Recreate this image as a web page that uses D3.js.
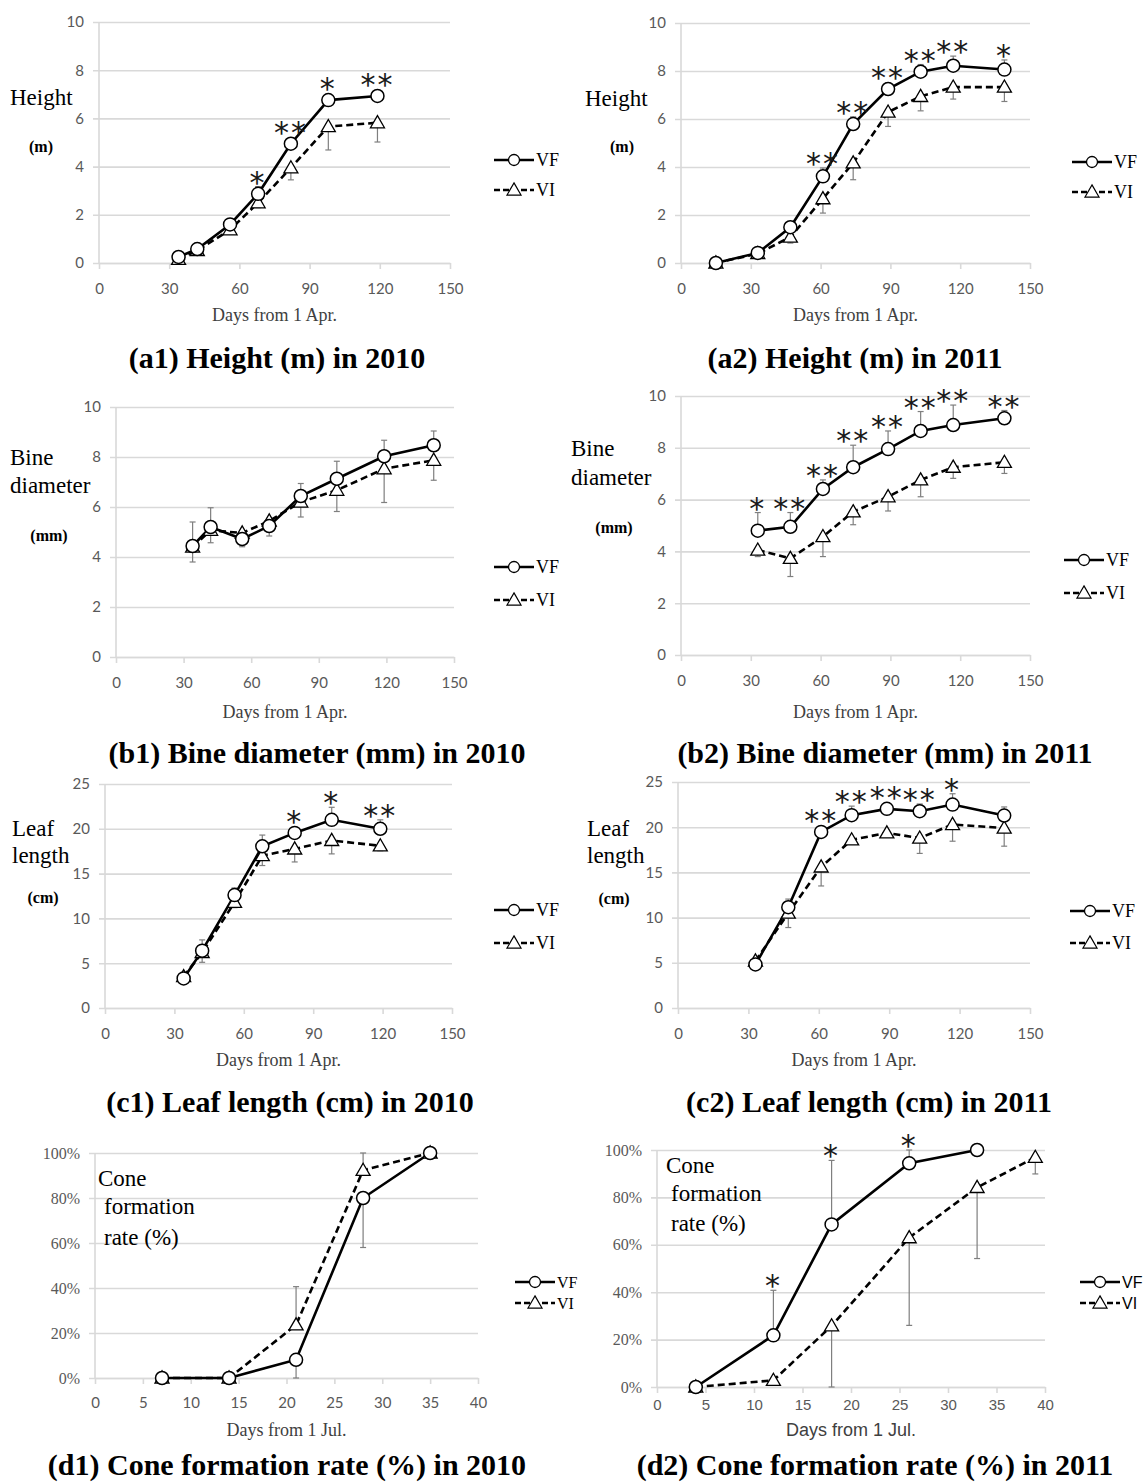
<!DOCTYPE html>
<meta charset="utf-8">
<style>
body { margin: 0; background: #fff; }
</style>
<body>
<svg id="chart" width="1145" height="1483"></svg>
<script src="https://cdn.jsdelivr.net/npm/d3@7"></script>
<script>
// ---------- data ----------
var aprTicks = [0, 30, 60, 90, 120, 150];
var julTicks = [0, 5, 10, 15, 20, 25, 30, 35, 40];
var tenTicks = [0, 2, 4, 6, 8, 10];
var leafTicks = [0, 5, 10, 15, 20, 25];
var rateTicks = [0, 20, 40, 60, 80, 100];

// (a1) height 2010
var heightDays2010 = [34, 42, 56, 68, 82, 98, 119];
var heightVF2010 = [0.25, 0.58, 1.6, 2.87, 4.95, 6.76, 6.93];
var heightVI2010 = [0.15, 0.52, 1.38, 2.5, 3.95, 5.66, 5.82];
var heightVFerr2010 = [0.05, 0.1, 0.15, 0.3, 0.2, 0.1, 0.1];
var heightVIerr2010 = [-0.05, -0.1, -0.15, -0.2, -0.5, -0.97, -0.8];
var heightSig2010 = ["", "", "", "*", "**", "*", "**"];

// (a2) height 2011
var heightDays2011 = [15, 33, 47, 61, 74, 89, 103, 117, 139];
var heightVF2011 = [0, 0.42, 1.49, 3.61, 5.79, 7.25, 7.97, 8.22, 8.06];
var heightVI2011 = [0, 0.39, 1.08, 2.68, 4.17, 6.29, 6.94, 7.33, 7.33];
var heightVFerr2011 = [0.05, 0.05, 0.1, 0.35, 0.3, 0.25, 0.3, 0.4, 0.4];
var heightVIerr2011 = [-0.05, -0.05, -0.25, -0.6, -0.7, -0.6, -0.6, -0.5, -0.6];
var heightSig2011 = ["", "", "", "**", "**", "**", "**", "**", "*"];

// (b1) bine diameter 2010
var bineDays2010 = [34, 42, 56, 68, 82, 98, 119, 141];
var bineVF2010 = [4.44, 5.2, 4.72, 5.24, 6.44, 7.13, 8.03, 8.47];
var bineVI2010 = [4.4, 5.07, 4.96, 5.44, 6.2, 6.67, 7.53, 7.87];
var bineVFerr2010 = [0.96, 0.77, 0.3, 0.3, 0.5, 0.7, 0.64, 0.57];
var bineVIerr2010 = [-0.6, -0.5, -0.55, -0.6, -0.6, -0.85, -1.35, -0.8];
var bineSig2010 = ["", "", "", "", "", "", "", ""];

// (b2) bine diameter 2011
var bineDays2011 = [33, 47, 61, 74, 89, 103, 117, 139];
var bineVF2011 = [4.8, 4.95, 6.41, 7.25, 7.95, 8.65, 8.88, 9.14];
var bineVI2011 = [4.05, 3.73, 4.57, 5.53, 6.11, 6.76, 7.25, 7.44];
var bineVFerr2011 = [0.7, 0.55, 0.35, 0.85, 0.7, 0.75, 0.77, 0.3];
var bineVIerr2011 = [-0.25, -0.7, -0.77, -0.5, -0.55, -0.65, -0.43, -0.43];
var bineSig2011 = ["*", "**", "**", "**", "**", "**", "**", "**"];

// (c1) leaf length 2010
var leafDays2010 = [34, 42, 56, 68, 82, 98, 119];
var leafVF2010 = [3.3, 6.4, 12.6, 18.05, 19.54, 21.0, 20.0];
var leafVI2010 = [3.5, 6.2, 11.8, 17.0, 17.75, 18.7, 18.1];
var leafVFerr2010 = [0.3, 1.2, 0.8, 1.25, 0.5, 1.4, 1.0];
var leafVIerr2010 = [-0.3, -1.1, -0.6, -1.1, -1.45, -1.5, -0.55];
var leafSig2010 = ["", "", "", "", "*", "*", "**"];

// (c2) leaf length 2011
var leafDays2011 = [33, 47, 61, 74, 89, 103, 117, 139];
var leafVF2011 = [4.82, 11.15, 19.48, 21.33, 22.03, 21.77, 22.5, 21.29];
var leafVI2011 = [5.2, 10.5, 15.6, 18.6, 19.37, 18.8, 20.3, 19.9];
var leafVFerr2011 = [0.3, 0.9, 0.3, 1.0, 0.4, 0.8, 1.2, 0.95];
var leafVIerr2011 = [-0.3, -1.6, -2.1, -0.4, -0.3, -1.7, -1.85, -2.0];
var leafSig2011 = ["", "", "**", "**", "**", "**", "*", ""];

// (d1) cone formation rate 2010 (%)
var coneDays2010 = [7, 14, 21, 28, 35];
var coneVF2010 = [0, 0, 8.1, 80, 100];
var coneVI2010 = [0, 0, 23.6, 92.3, 100];
var coneVFerr2010 = [0, 0, -8.1, -22, 0];
var coneVIerr2010 = [0, 0, 17, 7.7, 0];
var coneSig2010 = ["", "", "", "", ""];

// (d2) cone formation rate 2011 (%)
var coneDaysVF2011 = [4, 12, 18, 26, 33];
var coneDaysVI2011 = [4, 12, 18, 26, 33, 39];
var coneVF2011 = [0, 21.8, 68.6, 94.4, 100];
var coneVI2011 = [0, 2.8, 25.8, 63, 84.2, 96.9];
var coneVFerr2011 = [0, 19, 27, 5.6, 0];
var coneVIerr2011 = [0, 0, -25.8, -37, -30, -7];
var coneSig2011 = ["", "*", "*", "*", ""];

// ---------- fonts ----------
var SERIF = "'Liberation Serif', 'Times New Roman', serif";
var CAL = "Lato, 'Open Sans', sans-serif";
var ARIAL = "'Liberation Sans', Arial, sans-serif";

var plain = function(d) { return d; };
var pct = function(d) { return d + "%"; };

var panels = [
  {
    box: {l: 99, r: 450, t: 22, b: 263},
    xDomain: [0, 150], xTicks: aprTicks, yDomain: [0, 10], yTicks: tenTicks, yFormat: plain,
    vf: {x: heightDays2010, y: heightVF2010, err: heightVFerr2010},
    vi: {x: heightDays2010, y: heightVI2010, err: heightVIerr2010},
    sig: heightSig2010,
    yTitle: [{text: "Height", x: 10, y: 97}, {text: "(m)", x: 41, y: 146, bold: true}],
    xTitle: "Days from 1 Apr.", xTitleY: 315, xTickY: 26,
    title: "(a1) Height (m) in 2010", titleX: 277, titleY: 357,
    legend: {x: 494, y: 160, gap: 30, size: 18},
    fonts: {yTick: CAL, xTick: CAL, xTitle: SERIF, legend: SERIF}
  },
  {
    box: {l: 681, r: 1030, t: 23, b: 263},
    xDomain: [0, 150], xTicks: aprTicks, yDomain: [0, 10], yTicks: tenTicks, yFormat: plain,
    vf: {x: heightDays2011, y: heightVF2011, err: heightVFerr2011},
    vi: {x: heightDays2011, y: heightVI2011, err: heightVIerr2011},
    sig: heightSig2011,
    yTitle: [{text: "Height", x: 585, y: 98}, {text: "(m)", x: 622, y: 146, bold: true}],
    xTitle: "Days from 1 Apr.", xTitleY: 315, xTickY: 26,
    title: "(a2) Height (m) in 2011", titleX: 855, titleY: 357,
    legend: {x: 1072, y: 162, gap: 30, size: 18},
    fonts: {yTick: CAL, xTick: CAL, xTitle: SERIF, legend: SERIF}
  },
  {
    box: {l: 116, r: 454, t: 407, b: 657},
    xDomain: [0, 150], xTicks: aprTicks, yDomain: [0, 10], yTicks: tenTicks, yFormat: plain,
    vf: {x: bineDays2010, y: bineVF2010, err: bineVFerr2010},
    vi: {x: bineDays2010, y: bineVI2010, err: bineVIerr2010},
    sig: bineSig2010,
    yTitle: [{text: "Bine", x: 10, y: 457}, {text: "diameter", x: 10, y: 485},
             {text: "(mm)", x: 49, y: 535, bold: true}],
    xTitle: "Days from 1 Apr.", xTitleY: 712, xTickY: 26,
    title: "(b1) Bine diameter (mm) in 2010", titleX: 317, titleY: 752,
    legend: {x: 494, y: 567, gap: 33, size: 18},
    fonts: {yTick: CAL, xTick: CAL, xTitle: SERIF, legend: SERIF}
  },
  {
    box: {l: 681, r: 1030, t: 396, b: 655},
    xDomain: [0, 150], xTicks: aprTicks, yDomain: [0, 10], yTicks: tenTicks, yFormat: plain,
    vf: {x: bineDays2011, y: bineVF2011, err: bineVFerr2011},
    vi: {x: bineDays2011, y: bineVI2011, err: bineVIerr2011},
    sig: bineSig2011,
    yTitle: [{text: "Bine", x: 571, y: 448}, {text: "diameter", x: 571, y: 477},
             {text: "(mm)", x: 614, y: 527, bold: true}],
    xTitle: "Days from 1 Apr.", xTitleY: 712, xTickY: 26,
    title: "(b2) Bine diameter (mm) in 2011", titleX: 885, titleY: 752,
    legend: {x: 1064, y: 560, gap: 33, size: 18},
    fonts: {yTick: CAL, xTick: CAL, xTitle: SERIF, legend: SERIF}
  },
  {
    box: {l: 105, r: 452, t: 784, b: 1008},
    xDomain: [0, 150], xTicks: aprTicks, yDomain: [0, 25], yTicks: leafTicks, yFormat: plain,
    vf: {x: leafDays2010, y: leafVF2010, err: leafVFerr2010},
    vi: {x: leafDays2010, y: leafVI2010, err: leafVIerr2010},
    sig: leafSig2010,
    yTitle: [{text: "Leaf", x: 12, y: 828}, {text: "length", x: 12, y: 855},
             {text: "(cm)", x: 43, y: 897, bold: true}],
    xTitle: "Days from 1 Apr.", xTitleY: 1060, xTickY: 26,
    title: "(c1) Leaf length (cm) in 2010", titleX: 290, titleY: 1101,
    legend: {x: 494, y: 910, gap: 33, size: 18},
    fonts: {yTick: CAL, xTick: CAL, xTitle: SERIF, legend: SERIF}
  },
  {
    box: {l: 678, r: 1030, t: 782, b: 1008},
    xDomain: [0, 150], xTicks: aprTicks, yDomain: [0, 25], yTicks: leafTicks, yFormat: plain,
    vf: {x: leafDays2011, y: leafVF2011, err: leafVFerr2011},
    vi: {x: leafDays2011, y: leafVI2011, err: leafVIerr2011},
    sig: leafSig2011,
    yTitle: [{text: "Leaf", x: 587, y: 828}, {text: "length", x: 587, y: 855},
             {text: "(cm)", x: 614, y: 898, bold: true}],
    xTitle: "Days from 1 Apr.", xTitleY: 1060, xTickY: 26,
    title: "(c2) Leaf length (cm) in 2011", titleX: 869, titleY: 1101,
    legend: {x: 1070, y: 911, gap: 32, size: 18},
    fonts: {yTick: CAL, xTick: CAL, xTitle: SERIF, legend: SERIF}
  },
  {
    box: {l: 95, r: 478, t: 1153, b: 1378},
    xDomain: [0, 40], xTicks: julTicks, yDomain: [0, 100], yTicks: rateTicks, yFormat: pct,
    vf: {x: coneDays2010, y: coneVF2010, err: coneVFerr2010},
    vi: {x: coneDays2010, y: coneVI2010, err: coneVIerr2010},
    sig: coneSig2010,
    yTitle: [{text: "Cone", x: 98, y: 1178}, {text: "formation", x: 104, y: 1206},
             {text: "rate (%)", x: 104, y: 1237}],
    xTitle: "Days from 1 Jul.", xTitleY: 1430, xTickY: 25,
    title: "(d1) Cone formation rate (%) in 2010", titleX: 287, titleY: 1464,
    legend: {x: 515, y: 1282, gap: 21, size: 16},
    fonts: {yTick: SERIF, xTick: CAL, xTitle: SERIF, legend: SERIF}
  },
  {
    box: {l: 657, r: 1045, t: 1150, b: 1387},
    xDomain: [0, 40], xTicks: julTicks, yDomain: [0, 100], yTicks: rateTicks, yFormat: pct,
    vf: {x: coneDaysVF2011, y: coneVF2011, err: coneVFerr2011},
    vi: {x: coneDaysVI2011, y: coneVI2011, err: coneVIerr2011},
    sig: coneSig2011,
    yTitle: [{text: "Cone", x: 666, y: 1165}, {text: "formation", x: 671, y: 1193},
             {text: "rate (%)", x: 671, y: 1223}],
    xTitle: "Days from 1 Jul.", xTitleY: 1430, xTickY: 18,
    title: "(d2) Cone formation rate (%) in 2011", titleX: 875, titleY: 1464,
    legend: {x: 1080, y: 1282, gap: 21, size: 16},
    fonts: {yTick: SERIF, xTick: ARIAL, xTitle: ARIAL, legend: ARIAL}
  }
];

var svg = d3.select("#chart");
svg.append("rect").attr("width", 1145).attr("height", 1483).attr("fill", "#fff");

var GRID = "#d9d9d9";
var triangle = d3.symbol().type(d3.symbolTriangle).size(85);

panels.forEach(drawPanel);

function toPoints(s) {
  return s.x.map(function(d, i) { return {x: d, y: s.y[i], e: s.err[i]}; });
}

function drawPanel(p) {
  var x = d3.scaleLinear().domain(p.xDomain).range([p.box.l, p.box.r]);
  var y = d3.scaleLinear().domain(p.yDomain).range([p.box.b, p.box.t]);
  var g = svg.append("g");

  // horizontal gridlines + y tick labels
  var ya = g.append("g")
    .attr("transform", "translate(" + p.box.l + ",0)")
    .call(d3.axisLeft(y).tickValues(p.yTicks).tickFormat(p.yFormat)
      .tickSizeInner(-(p.box.r - p.box.l)).tickSizeOuter(0).tickPadding(15));
  ya.select(".domain").remove();
  ya.selectAll(".tick line").attr("x1", -6).attr("stroke", GRID).attr("stroke-width", 1.6);
  ya.selectAll(".tick text")
    .attr("fill", "#595959")
    .style("font-family", p.fonts.yTick)
    .style("font-size", p.fonts.yTick == SERIF ? "16px" : "15px");

  // vertical axis line
  g.append("line")
    .attr("x1", p.box.l).attr("x2", p.box.l)
    .attr("y1", p.box.t).attr("y2", p.box.b)
    .attr("stroke", GRID).attr("stroke-width", 1.6);

  // x axis
  var xa = g.append("g")
    .attr("transform", "translate(0," + p.box.b + ")")
    .call(d3.axisBottom(x).tickValues(p.xTicks).tickSizeInner(6).tickSizeOuter(0));
  xa.select(".domain").attr("stroke", GRID).attr("stroke-width", 1.6);
  xa.selectAll(".tick line").attr("stroke", GRID).attr("stroke-width", 1.6);
  xa.selectAll(".tick text")
    .attr("y", p.xTickY).attr("dy", "0.35em")
    .attr("fill", "#595959")
    .style("font-family", p.fonts.xTick)
    .style("font-size", "15px");

  // axis titles
  g.append("text")
    .attr("x", (p.box.l + p.box.r) / 2).attr("y", p.xTitleY)
    .attr("text-anchor", "middle").attr("dominant-baseline", "central")
    .attr("fill", "#404040")
    .style("font-family", p.fonts.xTitle).style("font-size", "18px")
    .text(p.xTitle);

  p.yTitle.forEach(function(t) {
    g.append("text")
      .attr("x", t.x).attr("y", t.y)
      .attr("text-anchor", t.bold ? "middle" : "start")
      .attr("dominant-baseline", "central")
      .attr("fill", "#000")
      .style("font-family", SERIF)
      .style("font-size", t.bold ? "16px" : "23px")
      .style("font-weight", t.bold ? "bold" : "normal")
      .text(t.text);
  });

  g.append("text")
    .attr("x", p.titleX).attr("y", p.titleY)
    .attr("text-anchor", "middle").attr("dominant-baseline", "central")
    .attr("fill", "#000")
    .style("font-family", SERIF).style("font-size", "30px").style("font-weight", "bold")
    .text(p.title);

  var vf = toPoints(p.vf);
  var vi = toPoints(p.vi);

  // error bars
  [vi, vf].forEach(function(pts) {
    var eb = g.append("g").attr("stroke", "#7f7f7f").attr("stroke-width", 1.2);
    pts.filter(function(d) { return d.e != 0; }).forEach(function(d) {
      eb.append("line")
        .attr("x1", x(d.x)).attr("x2", x(d.x))
        .attr("y1", y(d.y)).attr("y2", y(d.y + d.e));
      eb.append("line")
        .attr("x1", x(d.x) - 3).attr("x2", x(d.x) + 3)
        .attr("y1", y(d.y + d.e)).attr("y2", y(d.y + d.e));
    });
  });

  var line = d3.line().x(function(d) { return x(d.x); }).y(function(d) { return y(d.y); });

  g.append("path").datum(vi)
    .attr("d", line).attr("fill", "none")
    .attr("stroke", "#000").attr("stroke-width", 2.6).attr("stroke-dasharray", "7,4");
  g.append("path").datum(vf)
    .attr("d", line).attr("fill", "none")
    .attr("stroke", "#000").attr("stroke-width", 2.6);

  g.selectAll(".tri").data(vi).enter().append("path")
    .attr("d", triangle)
    .attr("transform", function(d) { return "translate(" + x(d.x) + "," + (y(d.y) + 1) + ")"; })
    .attr("fill", "#fff").attr("stroke", "#000").attr("stroke-width", 1.3);
  g.selectAll(".dot").data(vf).enter().append("circle")
    .attr("cx", function(d) { return x(d.x); })
    .attr("cy", function(d) { return y(d.y); })
    .attr("r", 6.5)
    .attr("fill", "#fff").attr("stroke", "#000").attr("stroke-width", 1.5);

  // significance marks above VF
  vf.forEach(function(d, i) {
    var s = p.sig[i];
    if (!s) return;
    var top = Math.min(y(d.y + Math.max(d.e, 0)), y(d.y) - 7) - 11;
    g.append("text")
      .attr("x", x(d.x)).attr("y", top + 17)
      .attr("text-anchor", "middle")
      .attr("fill", "#1a1a1a")
      .style("font-family", "'DejaVu Sans', sans-serif")
      .style("font-size", "30px")
      .style("letter-spacing", "2px")
      .text(s);
  });

  // legend
  var lg = g.append("g").attr("transform", "translate(" + p.legend.x + "," + p.legend.y + ")");
  [["VF", false], ["VI", true]].forEach(function(item, k) {
    var row = lg.append("g").attr("transform", "translate(0," + (k * p.legend.gap) + ")");
    row.append("line").attr("x1", 0).attr("x2", 40).attr("y1", 0).attr("y2", 0)
      .attr("stroke", "#000").attr("stroke-width", 2.6)
      .attr("stroke-dasharray", item[1] ? "6,3" : null);
    if (item[1]) {
      row.append("path").attr("d", triangle).attr("transform", "translate(20,1)")
        .attr("fill", "#fff").attr("stroke", "#000").attr("stroke-width", 1.2);
    } else {
      row.append("circle").attr("cx", 20).attr("cy", 0).attr("r", 5.5)
        .attr("fill", "#fff").attr("stroke", "#000").attr("stroke-width", 1.3);
    }
    row.append("text").attr("x", 42).attr("y", 0)
      .attr("dominant-baseline", "central")
      .style("font-family", p.fonts.legend).style("font-size", p.legend.size + "px")
      .text(item[0]);
  });
}
</script>
